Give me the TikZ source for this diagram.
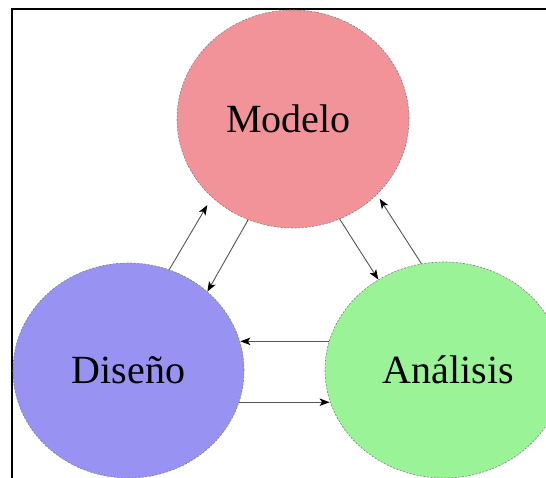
\documentclass[tikz,border=0pt]{standalone}
\usepackage{fontspec}
\setmainfont{Liberation Serif}
\usetikzlibrary{shapes.geometric,arrows.meta}

\definecolor{modelofill}{HTML}{F2939A}
\definecolor{disenofill}{HTML}{9893F2}
\definecolor{analisisfill}{HTML}{9AF397}
\definecolor{linkgray}{HTML}{555555}

\tikzset{
  phase/.style={ellipse, draw=gray, dashed, dash pattern=on 2pt off 1.5pt,
    line width=0.6pt, inner sep=0pt,
    font=\fontsize{40}{48}\selectfont},
  link/.style={draw=linkgray, line width=0.9pt,
    -{Stealth[black, length=10pt, width=7.5pt, inset=2.5pt]}},
  frame/.style={draw=black, line width=2pt}
}

\begin{document}
\begin{tikzpicture}[x=1pt, y=-1pt]
  \useasboundingbox (0,0) rectangle (546,478);
  \clip (0,0) rectangle (546,478);

  % outer frame
  \draw[frame] (11.7,9) rectangle (620,560);

  % the three phases
  \node[phase, fill=modelofill, minimum width=232pt, minimum height=218pt]
    (m) at (293,119) {Modelo\hspace*{9pt}};
  \node[phase, fill=disenofill, minimum width=231pt, minimum height=215pt]
    (d) at (128.5,370.5) {Diseño};
  \node[phase, fill=analisisfill, minimum width=238pt, minimum height=216pt]
    (a) at (444,370) {\hspace*{9pt}Análisis};

  % links between the phases
  \draw[link, shorten >=9pt] (d.68) -- (m.224);
  \draw[link] (m.246) -- (d.45);
  \draw[link] (m.295) -- (a.126);
  \draw[link, shorten >=5pt] (a.102) -- (m.318);
  % the two horizontal links
  \draw[link] (a.166) -- (a.166 -| d.14.67);
  \draw[link] (d.-16) -- (d.-16 -| a.195.8);
\end{tikzpicture}
\end{document}
